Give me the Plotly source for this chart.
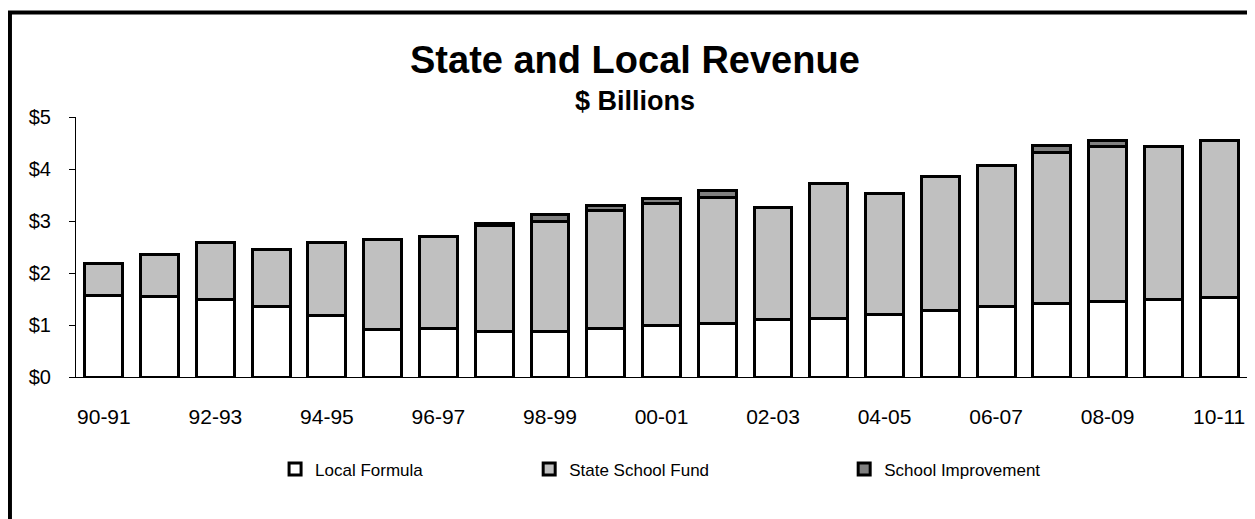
import plotly.graph_objects as go

# school years shown on the x axis
years = ["90-91", "91-92", "92-93", "93-94", "94-95", "95-96", "96-97", "97-98",
         "98-99", "99-00", "00-01", "01-02", "02-03", "03-04", "04-05", "05-06",
         "06-07", "07-08", "08-09", "09-10", "10-11"]

# $ billions
local_formula = [1.57, 1.55, 1.50, 1.36, 1.18, 0.91, 0.94, 0.88, 0.88, 0.94, 0.99,
                 1.02, 1.10, 1.12, 1.20, 1.27, 1.35, 1.42, 1.45, 1.50, 1.52]
state_school_fund = [0.62, 0.81, 1.08, 1.10, 1.40, 1.73, 1.77, 2.04, 2.11, 2.27, 2.35,
                     2.43, 2.16, 2.61, 2.33, 2.58, 2.72, 2.90, 2.98, 2.93, 3.02]
school_improvement = [None, None, None, None, None, None, None, 0.04, 0.14, 0.08, 0.09,
                      0.13, None, None, None, None, None, 0.13, 0.12, None, None]

y_ticks = [0, 1, 2, 3, 4, 5]
y_labels = ["$0", "$1", "$2", "$3", "$4", "$5"]
x_ticks = years[::2]

FONT = "Arial, Liberation Sans, sans-serif"

fig = go.Figure()
series = [
    ("Local Formula", local_formula, "#FFFFFF", "legend"),
    ("State School Fund", state_school_fund, "#C0C0C0", "legend2"),
    ("School Improvement", school_improvement, "#808080", "legend3"),
]
for name, vals, col, lg in series:
    fig.add_trace(go.Bar(
        x=years, y=vals, name=name, legend=lg, showlegend=True,
        marker=dict(color=col, line=dict(color="black", width=3)),
    ))

# three legends, spread out like the original
leg_common = dict(orientation="h", yanchor="middle", y=-0.356, xanchor="left",
                  font=dict(family=FONT, size=17, color="black"),
                  bgcolor="rgba(0,0,0,0)", itemwidth=30)
fig.update_layout(
    showlegend=True,
    legend=dict(x=0.170, **leg_common),
    legend2=dict(x=0.387, **leg_common),
    legend3=dict(x=0.656, **leg_common),
)

# page body adds 8px, so the figure is 8px smaller than the window
fig.update_layout(
    width=1247, height=511,
    barmode="stack", bargap=0.32,
    margin=dict(l=68, r=8, t=109, b=142, autoexpand=False),
    paper_bgcolor="white", plot_bgcolor="white",
    font=dict(family=FONT, color="black"),
    annotations=[
        dict(text="<b>State and Local Revenue</b>", xref="paper", yref="paper",
             x=0.4774, y=1.2176, showarrow=False, xanchor="center", yanchor="middle",
             font=dict(family=FONT, size=38, color="black")),
        dict(text="<b>$ Billions</b>", xref="paper", yref="paper",
             x=0.4774, y=1.0603, showarrow=False, xanchor="center", yanchor="middle",
             font=dict(family=FONT, size=27, color="black")),
    ],
    shapes=[
        # outer frame of the chart (runs off the right and bottom edges)
        dict(type="rect", xref="paper", yref="paper",
             x0=-0.0564, x1=1.03, y0=-0.65, y1=1.4018,
             line=dict(color="black", width=4), layer="above"),
    ],
)

fig.update_yaxes(
    range=[0, 5], tickmode="array", tickvals=y_ticks, ticktext=y_labels,
    showgrid=False, zeroline=False,
    showline=True, linecolor="black", linewidth=1,
    ticks="outside", ticklen=6, tickcolor="black",
    ticklabelstandoff=14, automargin=False,
    tickfont=dict(family=FONT, size=20, color="black"),
)
fig.update_xaxes(
    type="category", tickmode="array", tickvals=x_ticks, ticktext=x_ticks,
    showgrid=False, zeroline=False,
    showline=True, linecolor="black", linewidth=1,
    ticks="", ticklabelstandoff=21, automargin=False,
    tickfont=dict(family=FONT, size=21, color="black"),
)

fig.write_html("out.html")
